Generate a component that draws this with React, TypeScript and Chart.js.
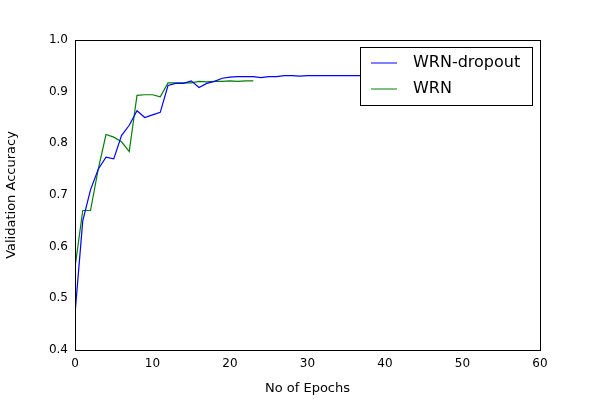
import React, { useEffect, useRef } from 'react';
import Chart from 'chart.js/auto';

const epochs = Array.from({ length: 38 }, (_, i) => i);
const dropoutAcc = [
  0.47, 0.65, 0.71, 0.75, 0.773, 0.77, 0.815, 0.835, 0.863, 0.85, 0.855, 0.86, 0.912, 0.916, 0.916, 0.921,
  0.908, 0.916, 0.92, 0.926, 0.928, 0.929, 0.929, 0.929, 0.927, 0.929, 0.929, 0.931, 0.931, 0.93, 0.931,
  0.931, 0.931, 0.931, 0.931, 0.931, 0.931, 0.931,
];
const wrnAcc = [
  0.56, 0.67, 0.67, 0.75, 0.817, 0.812, 0.803, 0.784, 0.893, 0.894, 0.894, 0.89, 0.917, 0.917, 0.917, 0.917,
  0.92, 0.919, 0.92, 0.92, 0.921, 0.92, 0.921, 0.921,
];
const seriesNames = ['WRN-dropout', 'WRN'];
const seriesColors = ['#0000ff', '#008000'];

const font = 'DejaVu Sans';

export default function App() {
  const canvasRef = useRef<HTMLCanvasElement>(null);

  useEffect(() => {
    document.body.style.margin = '0';
    const canvas = canvasRef.current;
    if (!canvas) return;
    const legendBox = {
      id: 'legendBox',
      afterDraw(chart: any) {
        const ctx = chart.ctx;
        const a = chart.chartArea;
        ctx.save();
        ctx.strokeStyle = '#000';
        ctx.lineWidth = 1;
        ctx.strokeRect(Math.round(a.left) + 0.5, Math.round(a.top) + 0.5, Math.round(a.right - a.left), Math.round(a.bottom - a.top));
        ctx.fillStyle = '#fff';
        ctx.fillRect(360.5, 47.5, 172, 58);
        ctx.strokeRect(360.5, 47.5, 172, 58);
        ctx.font = `16px "${font}"`;
        ctx.textBaseline = 'middle';
        seriesNames.forEach((name, i) => {
          const y = 63 + i * 26;
          ctx.strokeStyle = seriesColors[i];
          ctx.beginPath();
          ctx.moveTo(371, y);
          ctx.lineTo(397, y);
          ctx.stroke();
          ctx.fillStyle = '#000';
          ctx.fillText(name, 413, y);
        });
        ctx.restore();
      },
    };
    const chart = new Chart(canvas, {
      type: 'line',
      data: {
        datasets: [
          {
            label: seriesNames[0],
            data: epochs.map((e, i) => ({ x: e, y: dropoutAcc[i] })),
            borderColor: seriesColors[0],
            borderWidth: 1.2,
            pointRadius: 0,
            tension: 0,
          },
          {
            label: seriesNames[1],
            data: wrnAcc.map((v, i) => ({ x: epochs[i], y: v })),
            borderColor: seriesColors[1],
            borderWidth: 1.2,
            pointRadius: 0,
            tension: 0,
          },
        ],
      },
      options: {
        animation: false,
        responsive: false,
        layout: { padding: { top: 40, right: 60, left: 0, bottom: 0 } },
        plugins: { legend: { display: false }, tooltip: { enabled: false } },
        scales: {
          x: {
            type: 'linear',
            min: 0,
            max: 60,
            ticks: { stepSize: 10, color: '#000', font: { family: font, size: 12 } },
            grid: { display: false, tickLength: 4 },
            border: { color: '#000' },
            title: { display: true, text: 'No of Epochs', color: '#000', font: { family: font, size: 13 }, padding: { top: 2 } },
            afterFit: (s: any) => { s.height = 50; },
          },
          y: {
            min: 0.4,
            max: 1.0,
            ticks: { stepSize: 0.1, color: '#000', font: { family: font, size: 12 }, callback: (v: any) => Number(v).toFixed(1) },
            grid: { display: false, tickLength: 4 },
            border: { color: '#000' },
            title: { display: true, text: 'Validation Accuracy', color: '#000', font: { family: font, size: 13 }, padding: { bottom: 4 } },
            afterFit: (s: any) => { s.width = 75; },
          },
        },
      },
      plugins: [legendBox],
    });
    return () => chart.destroy();
  }, []);

  return <canvas ref={canvasRef} width={600} height={400} style={{ display: 'block' }} />;
}
